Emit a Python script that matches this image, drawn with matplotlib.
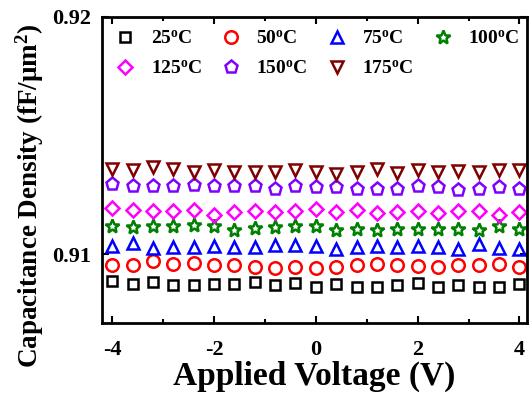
import matplotlib
matplotlib.use("Agg")
import matplotlib.pyplot as plt
from matplotlib.ticker import MultipleLocator, FixedLocator

voltage = [-4.0, -3.6, -3.2, -2.8, -2.4, -2.0, -1.6, -1.2, -0.8, -0.4, 0.0,
           0.4, 0.8, 1.2, 1.6, 2.0, 2.4, 2.8, 3.2, 3.6, 4.0]

c25 = [0.90886, 0.90875, 0.90883, 0.90869, 0.90869, 0.90875, 0.90875, 0.90883, 0.90869, 0.90880, 0.90861,
       0.90875, 0.90861, 0.90861, 0.90869, 0.90878, 0.90861, 0.90869, 0.90864, 0.90861, 0.90875]
c50 = [0.90956, 0.90956, 0.90970, 0.90959, 0.90962, 0.90954, 0.90956, 0.90945, 0.90942, 0.90948, 0.90940,
       0.90945, 0.90954, 0.90959, 0.90956, 0.90951, 0.90945, 0.90954, 0.90956, 0.90959, 0.90948]
c75 = [0.91034, 0.91048, 0.91027, 0.91030, 0.91030, 0.91034, 0.91032, 0.91032, 0.91039, 0.91038, 0.91034,
       0.91022, 0.91031, 0.91034, 0.91031, 0.91034, 0.91030, 0.91021, 0.91042, 0.91027, 0.91024]
c100 = [0.91118, 0.91114, 0.91119, 0.91117, 0.91122, 0.91118, 0.91103, 0.91111, 0.91114, 0.91119, 0.91118,
        0.91103, 0.91105, 0.91103, 0.91108, 0.91108, 0.91108, 0.91108, 0.91103, 0.91117, 0.91105]
c125 = [0.91195, 0.91187, 0.91184, 0.91181, 0.91187, 0.91167, 0.91179, 0.91181, 0.91179, 0.91184, 0.91190,
        0.91179, 0.91187, 0.91173, 0.91179, 0.91181, 0.91173, 0.91184, 0.91181, 0.91167, 0.91176]
c150 = [0.91294, 0.91286, 0.91286, 0.91286, 0.91291, 0.91286, 0.91286, 0.91288, 0.91277, 0.91286, 0.91283,
        0.91283, 0.91277, 0.91277, 0.91277, 0.91288, 0.91283, 0.91271, 0.91277, 0.91283, 0.91274]
c175 = [0.91359, 0.91356, 0.91367, 0.91359, 0.91345, 0.91356, 0.91347, 0.91347, 0.91347, 0.91356, 0.91345,
        0.91339, 0.91347, 0.91359, 0.91342, 0.91356, 0.91345, 0.91350, 0.91347, 0.91356, 0.91356]

labels = ["25$^{\\mathrm{o}}$C", "50$^{\\mathrm{o}}$C", "75$^{\\mathrm{o}}$C", "100$^{\\mathrm{o}}$C",
          "125$^{\\mathrm{o}}$C", "150$^{\\mathrm{o}}$C", "175$^{\\mathrm{o}}$C"]
series = [c25, c50, c75, c100, c125, c150, c175]
markers = ["s", "o", "^", "*", "D", "p", "v"]
colors = ["#000000", "#FF0000", "#0000FF", "#008000", "#FF00FF", "#8000FF", "#800000"]
sizes = [7.5, 9, 9, 10, 7, 9.5, 9]

plt.rcParams["font.family"] = ["Liberation Serif", "DejaVu Serif"]
plt.rcParams["font.weight"] = "bold"
plt.rcParams["axes.unicode_minus"] = False
plt.rcParams["mathtext.fontset"] = "custom"
plt.rcParams["mathtext.rm"] = "Liberation Serif:bold"
plt.rcParams["mathtext.it"] = "Liberation Serif:italic:bold"
plt.rcParams["mathtext.bf"] = "Liberation Serif:bold"

fig = plt.figure(figsize=(5.32, 3.94), dpi=100)
ax = fig.add_axes([0.1917, 0.180, 0.799, 0.777])

handles = []
for y, m, c, lab, s in zip(series, markers, colors, labels, sizes):
    h, = ax.plot(voltage, y, linestyle="none", marker=m, markersize=s,
                 markerfacecolor="none", markeredgecolor=c, markeredgewidth=1.8, label=lab)
    handles.append(h)

ax.set_xlim(-4.2, 4.15)
ax.set_ylim(0.9071, 0.92)
ax.xaxis.set_major_locator(MultipleLocator(2))
ax.xaxis.set_minor_locator(MultipleLocator(1))
ax.yaxis.set_major_locator(FixedLocator([0.91, 0.92]))
ax.set_yticklabels(["0.91", "0.92"])

for sp in ax.spines.values():
    sp.set_linewidth(2)
ax.tick_params(which="both", direction="in", top=True, right=True, width=1.5)
ax.tick_params(which="major", length=5, labelsize=16)
ax.tick_params(axis="x", which="major", pad=12)
ax.tick_params(axis="y", which="major", pad=8)
ax.tick_params(which="minor", length=3)
for t in ax.get_xticklabels() + ax.get_yticklabels():
    t.set_fontweight("bold")

ax.set_xlabel("Applied Voltage (V)", fontsize=24, fontweight="bold", labelpad=1)
ax.set_ylabel("Capacitance Density (fF/\u03bcm$^{\\mathrm{2}}$)", fontsize=19.5, fontweight="bold")
ax.yaxis.set_label_coords(-0.132, 0.415)

# row-major legend layout: reorder handles for column-major fill
order = [0, 4, 1, 5, 2, 6, 3]
ax.legend([handles[i] for i in order], [labels[i] for i in order],
          loc="upper left", ncol=4, frameon=False, fontsize=14,
          handlelength=1.0, handletextpad=0.8, columnspacing=1.0,
          borderaxespad=0.3, labelspacing=0.6, bbox_to_anchor=(0.0, 1.0))

fig.savefig("out.png", dpi=100)
